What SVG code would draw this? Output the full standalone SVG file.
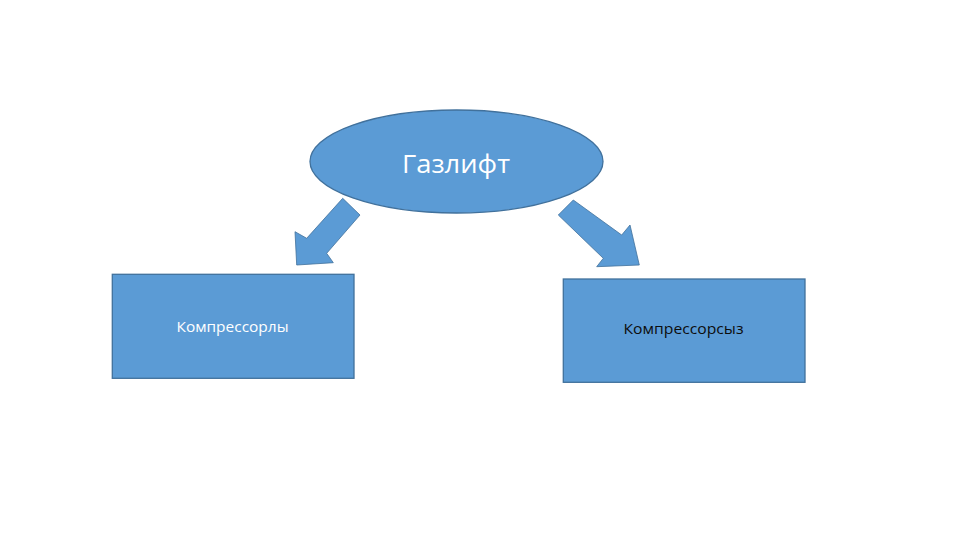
<svg xmlns="http://www.w3.org/2000/svg" width="960" height="540" viewBox="0 0 960 540">
<style>
.shape{fill:#5B9BD5;stroke:#41719C;stroke-width:1.3}
.arrow{fill:#5B9BD5;stroke:#41719C;stroke-width:0.8;stroke-linejoin:miter}
.t{font-family:"Open Sans","Liberation Sans",sans-serif;text-anchor:middle}
</style>
<rect width="960" height="540" fill="#FFFFFF"/>
<g id="connectors">
<polygon class="arrow" points="342.7,198.3 360,215 326.7,253.3 333.3,262.7 296.7,265 295,231.7 306.7,238.3"/>
<polygon class="arrow" points="573.3,200 558.3,215 603.3,258.3 596.7,266.7 639.3,265 630,225 621.7,235"/>
</g>
<g id="node-gazlift">
<ellipse class="shape" cx="456.5" cy="161.5" rx="146.5" ry="51.5"/>
<text class="t" x="456" y="173" font-size="25" fill="#FFFFFF" textLength="108" lengthAdjust="spacingAndGlyphs">Газлифт</text>
</g>
<g id="node-kompressorly">
<rect class="shape" x="112.3" y="274.3" width="241.7" height="104"/>
<text class="t" x="232.5" y="331.5" font-size="14" fill="#FFFFFF" textLength="112" lengthAdjust="spacingAndGlyphs">Компрессорлы</text>
</g>
<g id="node-kompressorsyz">
<rect class="shape" x="563.3" y="279" width="241.7" height="103.3"/>
<text class="t" x="683.5" y="333.5" font-size="14" fill="#0D0D0D" textLength="120" lengthAdjust="spacingAndGlyphs">Компрессорсыз</text>
</g>
</svg>
